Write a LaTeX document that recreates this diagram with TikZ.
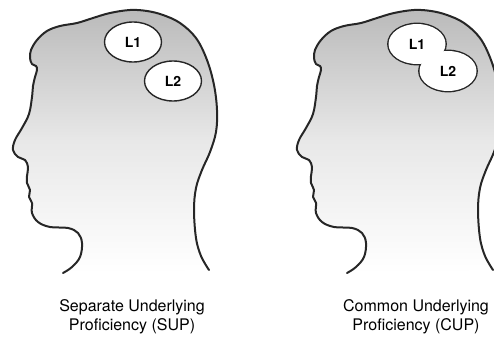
\documentclass[tikz,border=0pt]{standalone}
\usepackage{fontspec}
\setmainfont{TeX Gyre Heros}
\usepackage{tikz}
\usetikzlibrary{shapes.geometric,positioning}

\tikzset{
  headline/.style={draw=black!85, line width=2pt, line join=round, line cap=round},
  skull/.style={headline, top color=black!27, bottom color=white, middle color=black!9},
  lang/.style={ellipse, draw=black!85, line width=1.4pt, fill=white,
    minimum width=57pt, minimum height=40pt, inner sep=0pt,
    font=\fontsize{14}{14}\selectfont\bfseries},
  undertext/.style={align=center, anchor=north, inner sep=0pt,
    font=\fontsize{16}{19}\selectfont},
  % profile of a head, nose to the left
  pics/head/.style={code={
    \draw[skull] plot[smooth, tension=.6] coordinates {
      (63,273) (72,267) (80,257) (82,243) (78,233) (68,228) (50,227)
      (38,222) (32,213) (32,203) (29,197) (30,190) (27,183) (27,176)
      (28,167) (25,160) (18,157) (13,150) (15,140) (22,128) (29,114)
      (32,97) (33,86) (35,77) (37,70) (36,66) (32,64) (30,58) (31,50)
      (37,40) (47,31) (60,26) (77,23) (93,18) (110,13) (130,10) (147,11)
      (163,15) (180,23) (196,38) (207,60) (214,85) (217,110) (216,132)
      (210,152) (202,170) (196,188) (194,210) (196,238) (201,256) (209,270)};
  }}
}

\begin{document}
\begin{tikzpicture}[x=1pt,y=-1pt]
  \clip (0,0) rectangle (494,337);

  %left: two separate stores
  \pic at (0,0) {head};
  \node[lang] (sup1) at (133,42) {L1};
  \node[lang] (sup2) at (173,81) {L2};
  \node[undertext] (sup) at (132,299) {Separate Underlying\\Proficiency (SUP)};

  %right: the two stores merge into one
  \pic at (284,0) {head};
  \node[lang, line width=2.8pt] (cup1) at (417,44) {};
  \node[lang, line width=2.8pt] (cup2) at (448,71) {};
  \node[lang, draw=none] (cupl1) at (cup1) {L1};
  \node[lang, draw=none] (cupl2) at (cup2) {L2};
  \node[undertext] (cup) at (416,299) {Common Underlying\\Proficiency (CUP)};
\end{tikzpicture}
\end{document}
